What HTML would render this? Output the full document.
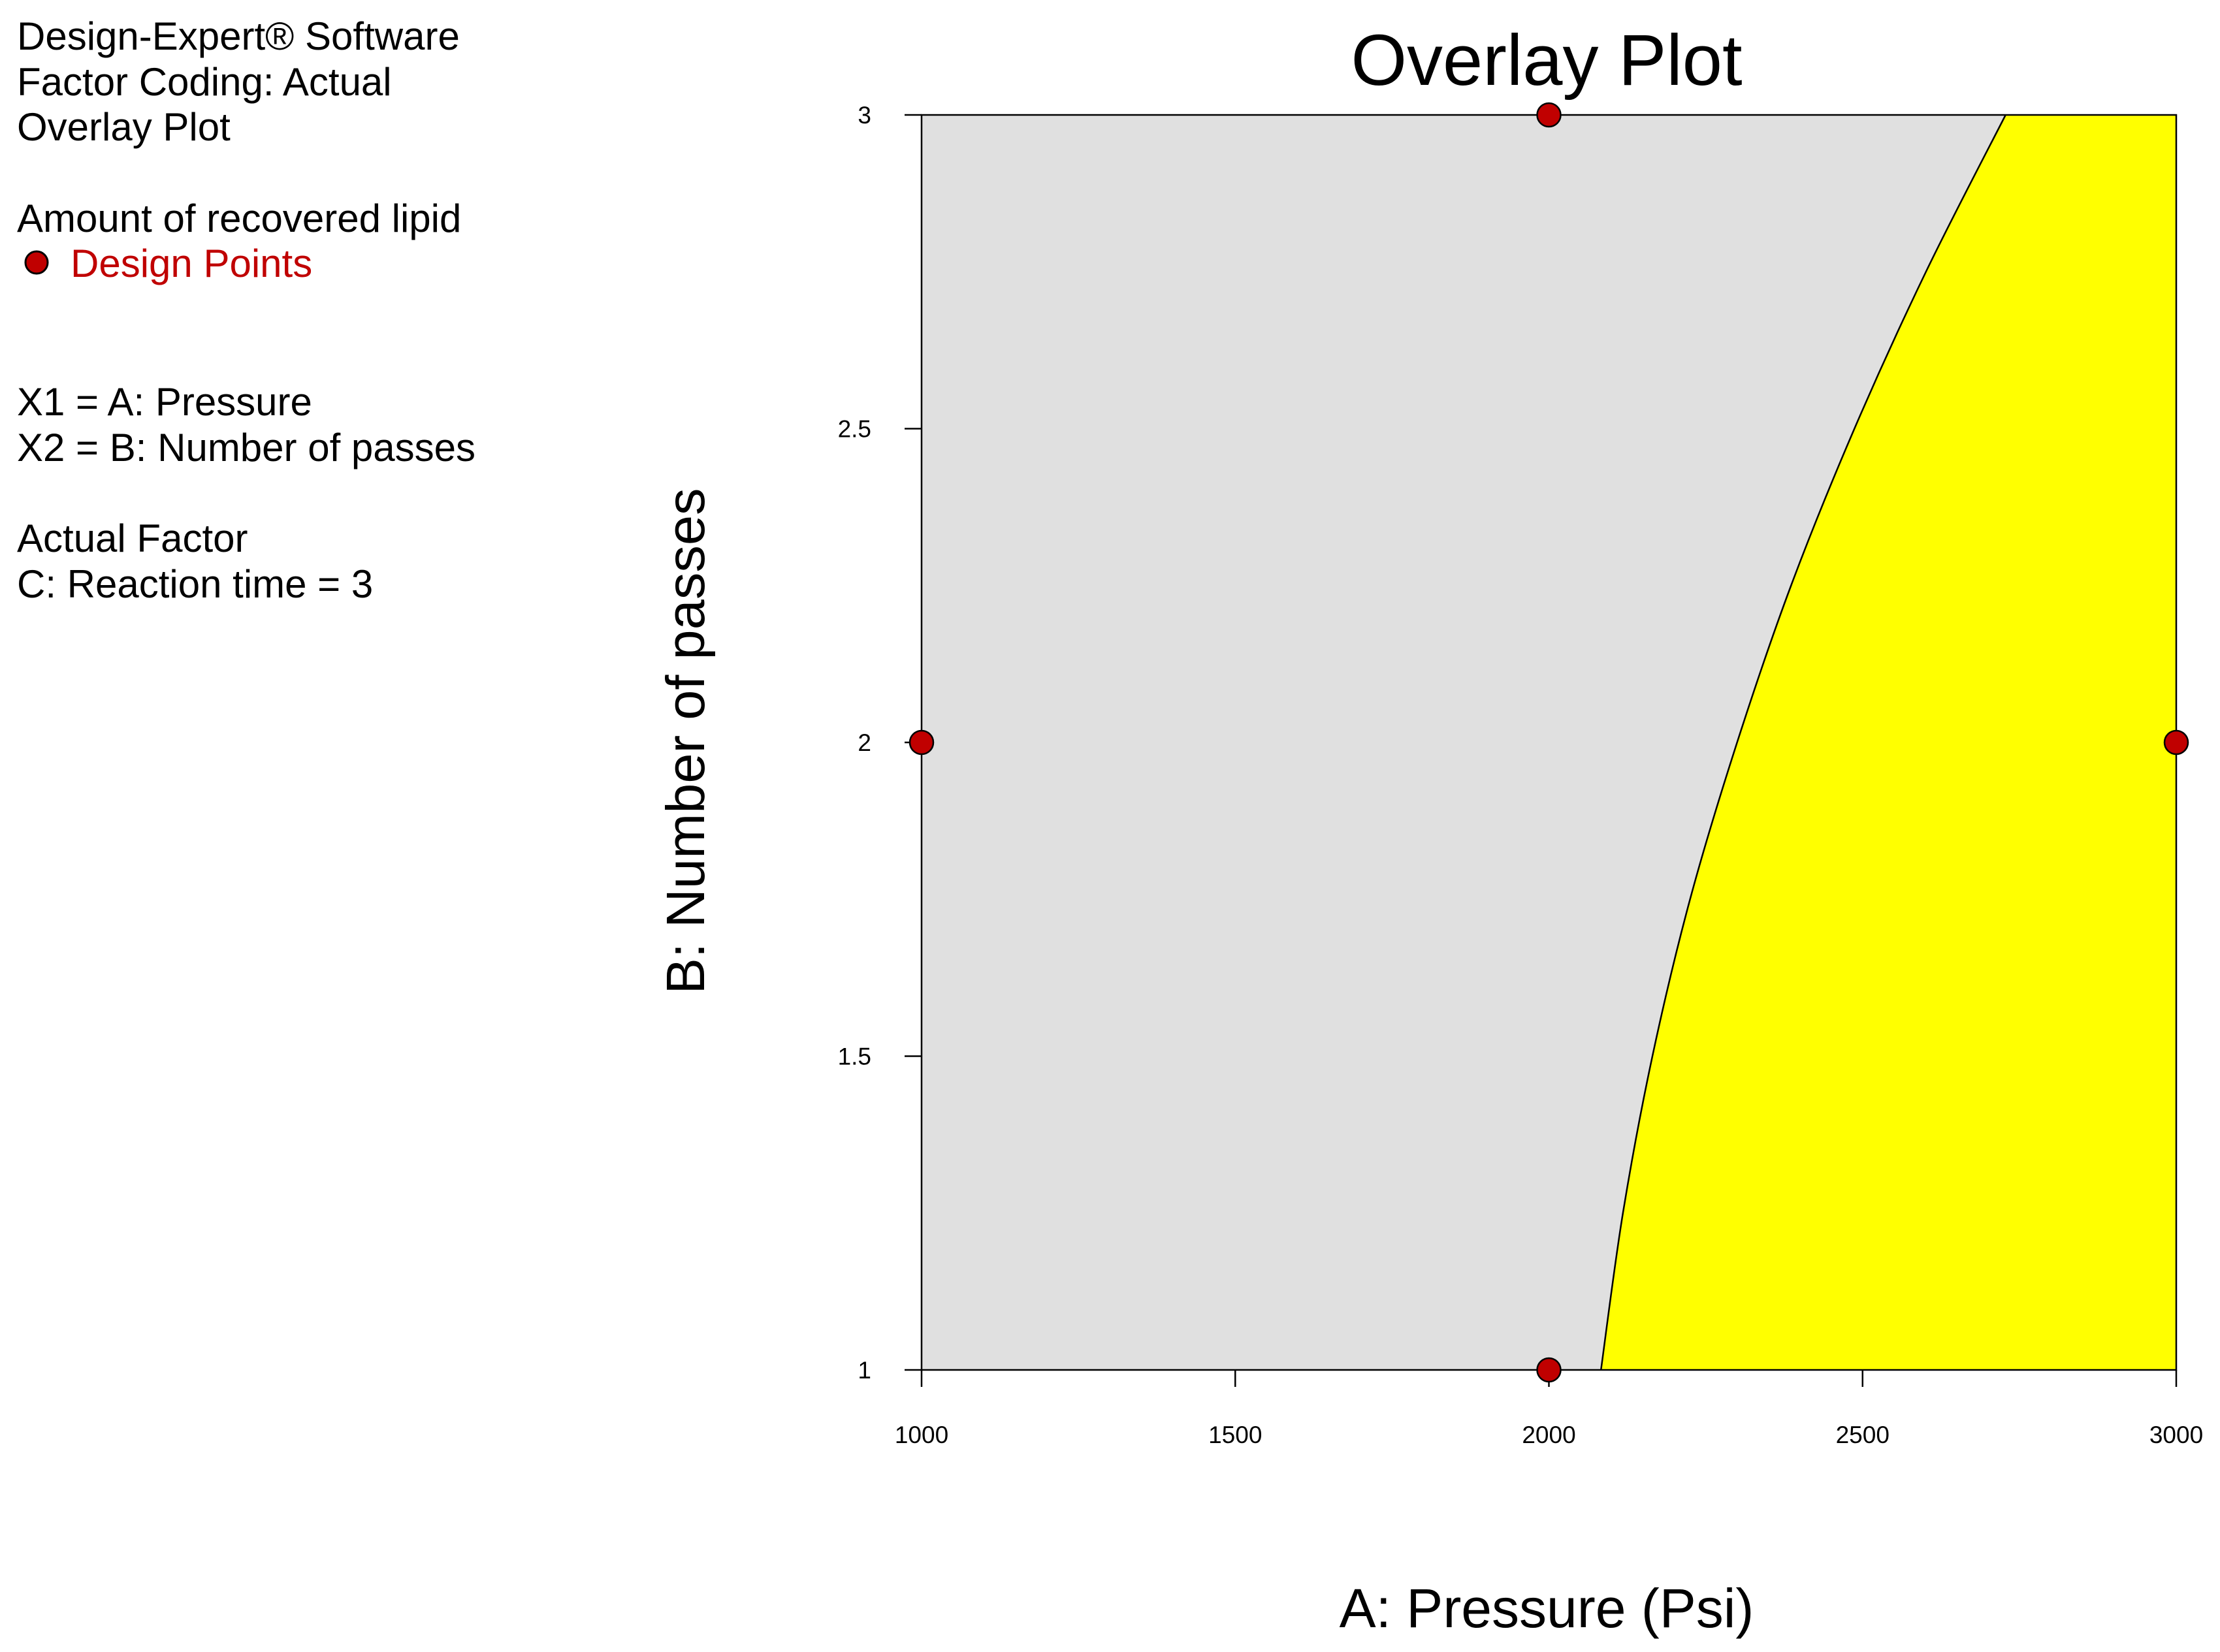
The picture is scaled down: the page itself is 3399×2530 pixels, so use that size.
<!DOCTYPE html>
<html><head><meta charset="utf-8"><style>
html,body{margin:0;padding:0;background:#fff;}
svg{display:block;font-family:"Liberation Sans",Arial,sans-serif;}
</style></head><body>
<svg id="chart" width="3399" height="2530" viewBox="0 0 3399 2530">
<g font-size="60" fill="#000">
<text x="26" y="76">Design-Expert® Software</text>
<text x="26" y="146">Factor Coding: Actual</text>
<text x="26" y="215">Overlay Plot</text>
<text x="26" y="355">Amount of recovered lipid</text>
<circle cx="56" cy="402" r="17" fill="#c00000" stroke="#000" stroke-width="3"/>
<text x="108" y="424" fill="#c00000">Design Points</text>
<text x="26" y="636">X1 = A: Pressure</text>
<text x="26" y="706">X2 = B: Number of passes</text>
<text x="26" y="845">Actual Factor</text>
<text x="26" y="915">C: Reaction time = 3</text>
</g>
<text x="2368" y="130" font-size="110" text-anchor="middle">Overlay Plot</text>
<text x="2368" y="2492" font-size="84" text-anchor="middle">A: Pressure (Psi)</text>
<text transform="translate(1078,1135) rotate(-90)" font-size="83" text-anchor="middle">B: Number of passes</text>
<g id="plot"></g>
</svg>
<script>
const xTicks=[1000,1500,2000,2500,3000];
const yTicks=[1,1.5,2,2.5,3];
const yTickLabels=["1","1.5","2","2.5","3"];
const boundaryB=[1,1.25,1.5,1.75,2,2.25,2.5,2.75,3];
const boundaryA=[2083,2118,2165,2225,2300,2386,2487,2601,2728];
const pointsA=[2000,1000,3000,2000];
const pointsB=[3,2,2,1];
const L=1411,R=3332,T=176,B=2098;
const xs=v=>L+(v-1000)/2000*(R-L);
const ys=v=>B-(v-1)/2*(B-T);
const NS="http://www.w3.org/2000/svg";
const g=document.getElementById('plot');
function mk(tag,attrs){const e=document.createElementNS(NS,tag);for(const k in attrs)e.setAttribute(k,attrs[k]);g.appendChild(e);return e;}
const bg=mk('rect',{x:L,y:T,width:R-L,height:B-T,fill:'#e0e0e0'});


const P=boundaryA.map((a,i)=>[xs(a),ys(boundaryB[i])]);
let d='M'+P[0][0]+','+P[0][1];
for(let i=0;i<P.length-1;i++){
 const p0=P[Math.max(0,i-1)],p1=P[i],p2=P[i+1],p3=P[Math.min(P.length-1,i+2)];
 const c1=[p1[0]+(p2[0]-p0[0])/6,p1[1]+(p2[1]-p0[1])/6];
 const c2=[p2[0]-(p3[0]-p1[0])/6,p2[1]-(p3[1]-p1[1])/6];
 d+=' C'+c1[0]+','+c1[1]+' '+c2[0]+','+c2[1]+' '+p2[0]+','+p2[1];
}
const fillD=d+' L'+R+','+T+' L'+R+','+B+' Z';
const reg=mk('path',{d:fillD,fill:'#ffff00'});


const bl=mk('path',{d:d,fill:'none',stroke:'#000','stroke-width':2.5});


const fr=mk('rect',{x:L,y:T,width:R-L,height:B-T,fill:'none',stroke:'#000','stroke-width':2.5});


xTicks.forEach(v=>{
 const t=mk('line',{x1:xs(v),x2:xs(v),y1:B,y2:B+26,stroke:'#000','stroke-width':2.5});
 
 
 const tx=mk('text',{x:xs(v),y:2210,'font-size':37,'text-anchor':'middle'});
 tx.textContent=v;
 
 
});
yTicks.forEach((v,i)=>{
 const t=mk('line',{x1:L-26,x2:L,y1:ys(v),y2:ys(v),stroke:'#000','stroke-width':2.5});
 
 
 const tx=mk('text',{x:1334,y:ys(v)+13,'font-size':37,'text-anchor':'end'});
 tx.textContent=yTickLabels[i];
 
 
});
pointsA.forEach((a,i)=>{
 const c=mk('circle',{cx:xs(a),cy:ys(pointsB[i]),r:18,fill:'#c00000',stroke:'#000','stroke-width':2.5});
 
 
});
</script>
</body></html>
